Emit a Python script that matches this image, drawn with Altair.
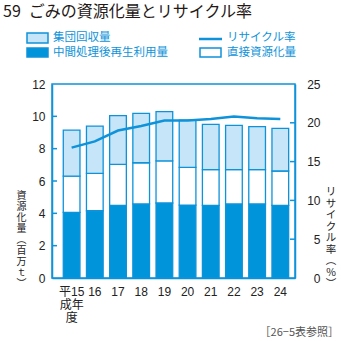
import altair as alt
import pandas as pd

years = ["15", "16", "17", "18", "19", "20", "21", "22", "23", "24"]
intermediate = [4.06, 4.16, 4.49, 4.58, 4.64, 4.51, 4.49, 4.58, 4.58, 4.49]
direct = [2.24, 2.31, 2.54, 2.55, 2.60, 2.33, 2.21, 2.12, 2.12, 2.13]
group = [2.85, 2.93, 3.01, 3.05, 3.05, 2.93, 2.80, 2.74, 2.66, 2.64]
rate = [16.8, 17.6, 19.0, 19.6, 20.3, 20.3, 20.5, 20.8, 20.6, 20.5]
left_ticks = [2, 4, 6, 8, 10]
right_ticks = [5, 10, 15, 20]
kinds = ["中間処理後再生利用量", "直接資源化量", "集団回収量"]

BLUE = "#0e93da"
DARK = "#0094da"
LIGHT = "#c7e5f8"
CJK = "Noto Sans CJK JP"
NUM = "Liberation Sans, Noto Sans CJK JP"

rows = []
for i, y in enumerate(years):
    for k, (name, arr) in enumerate(zip(kinds, [intermediate, direct, group])):
        rows.append({"year": y, "kind": name, "value": arr[i], "ord": k})
bars_df = pd.DataFrame(rows)
line_df = pd.DataFrame({"year": years, "rate": rate})

W, H = 243, 194
xscale = alt.Scale(paddingInner=0.28, paddingOuter=0.38, align=0.64)
xaxis = alt.Axis(
    title=None, ticks=False, domainColor=BLUE, domainWidth=1.5,
    labelAngle=0, labelFont=NUM, labelFontSize=12, labelColor="#222",
    labelPadding=8, labelLineHeight=13,
    labelExpr="datum.value == '15' ? ['平15', '成年', '\u3000度'] : datum.label",
)
x = alt.X("year:N", sort=years, scale=xscale, axis=xaxis)

lscale = alt.Scale(domain=[0, 12], nice=False)
rscale = alt.Scale(domain=[0, 25], nice=False)
laxis = alt.Axis(title=None, values=[0, 2, 4, 6, 8, 10, 12], ticks=False,
                 grid=False, domainColor=BLUE, domainWidth=1.5,
                 labelFont=NUM, labelFontSize=12, labelColor="#222",
                 labelPadding=7)
raxis = alt.Axis(title=None, orient="right", values=[0, 5, 10, 15, 20, 25], ticks=False,
                 grid=False, domainColor=BLUE, domainWidth=1.5,
                 labelFont=NUM, labelFontSize=12, labelColor="#222",
                 labelAlign="right", labelPadding=25)

bars = alt.Chart(bars_df).mark_bar(stroke=BLUE, strokeWidth=1.3).encode(
    x=x,
    y=alt.Y("value:Q", stack="zero", scale=lscale, axis=laxis),
    fill=alt.Fill("kind:N", scale=alt.Scale(domain=kinds, range=[DARK, "#ffffff", LIGHT]), legend=None),
    order=alt.Order("ord:Q"),
)

lt = alt.Chart(pd.DataFrame({"value": left_ticks})).mark_rule(color=BLUE, strokeWidth=1.5).encode(
    y=alt.Y("value:Q", scale=lscale, axis=laxis), x=alt.value(0), x2=alt.value(5))


def txt(text, xx, yy, size=12, color="#222", font=CJK, align="left", baseline="middle", lh=None):
    kw = dict(font=font, fontSize=size, color=color, align=align, baseline=baseline, text=text)
    if lh is not None:
        kw["lineHeight"] = lh
    return alt.Chart(pd.DataFrame({"a": [0]})).mark_text(**kw).encode(
        x=alt.value(xx), y=alt.value(yy))


def rect(x1, x2, y1, y2, fill):
    return alt.Chart(pd.DataFrame({"a": [0]})).mark_rect(fill=fill, stroke=BLUE, strokeWidth=1.5).encode(
        x=alt.value(x1), x2=alt.value(x2), y=alt.value(y1), y2=alt.value(y2))


ox, oy = 52, 84
decor = [
    txt("59\u2002ごみの資源化量とリサイクル率", 3 - ox, 17 - oy, size=16, color="#231815", baseline="alphabetic"),
    rect(27 - ox, 48 - ox, 33 - oy, 43 - oy, LIGHT),
    rect(27 - ox, 48 - ox, 48 - oy, 57 - oy, DARK),
    rect(200 - ox, 221 - ox, 48 - oy, 57 - oy, "#ffffff"),
    alt.Chart(pd.DataFrame({"a": [0]})).mark_rule(color=BLUE, strokeWidth=2.5).encode(
        x=alt.value(199 - ox), x2=alt.value(222 - ox), y=alt.value(39 - oy)),
    txt("集団回収量", 53 - ox, 38 - oy, size=11.5, color=BLUE),
    txt("中間処理後再生利用量", 53 - ox, 53 - oy, size=11.5, color=BLUE),
    txt("リサイクル率", 227 - ox, 38 - oy, size=11.5, color=BLUE),
    txt("直接資源化量", 227 - ox, 53 - oy, size=11.5, color=BLUE),
    txt(["資", "源", "化", "量", "︵", "百", "万", "ｔ", "︶"], 21.5 - ox, 196 - oy, size=10,
        align="center", baseline="middle", lh=11),
    txt(["リ", "サ", "イ", "ク", "ル", "率", "︵", "%", "︶"], 331 - ox, 192 - oy, size=10.5,
        align="center", baseline="middle", lh=11.5),
    txt("［26−5表参照］", 339 - ox, 333 - oy, size=11, color="#555", align="right"),
]

left = alt.layer(bars, lt, *decor)

line = alt.Chart(line_df).mark_line(color=BLUE, strokeWidth=2.5).encode(
    x=x,
    y=alt.Y("rate:Q", scale=rscale, axis=raxis),
)
rt = alt.Chart(pd.DataFrame({"rate": right_ticks})).mark_rule(color=BLUE, strokeWidth=1.5).encode(
    y=alt.Y("rate:Q", scale=rscale, axis=raxis), x=alt.value(W - 5), x2=alt.value(W))
right = alt.layer(line, rt)

chart = alt.layer(left, right).resolve_scale(y="independent").properties(
    width=W, height=H,
    autosize=alt.AutoSizeParams(type="none"),
    padding={"left": ox, "top": oy, "right": 341 - ox - W, "bottom": 341 - oy - H},
    background="#ffffff",
).configure_view(stroke=BLUE, strokeWidth=1.5)

chart.save("out.html", embed_options={"renderer": "svg", "actions": False})
